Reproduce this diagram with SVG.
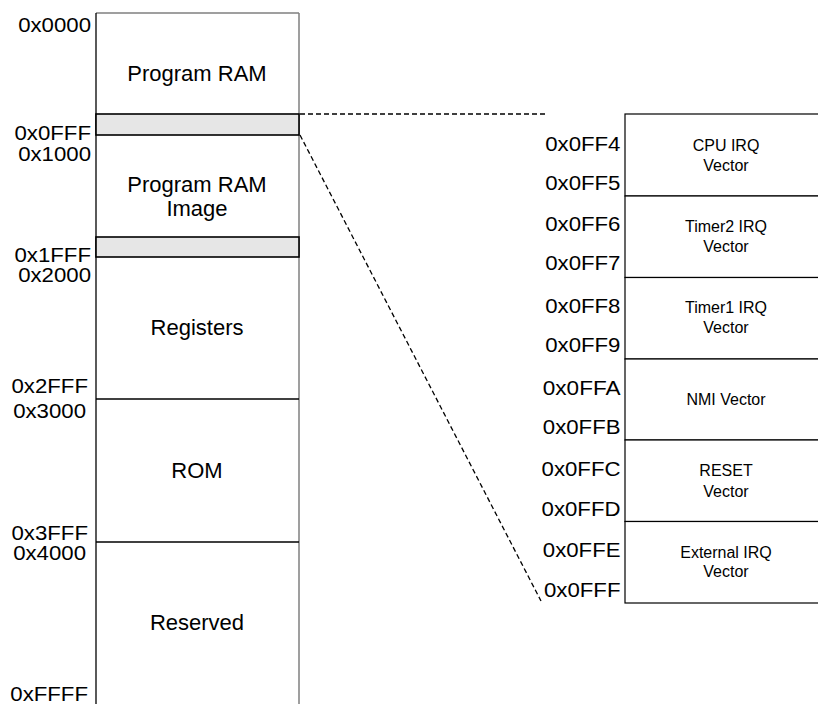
<svg xmlns="http://www.w3.org/2000/svg" width="818" height="704" viewBox="0 0 818 704">
<style>
.addr{font-family:"Liberation Sans",Arial,sans-serif;font-size:20px;fill:#000;text-anchor:end}
.big{font-family:"Liberation Sans",Arial,sans-serif;font-size:22px;fill:#000;text-anchor:middle}
.small{font-family:"Liberation Sans",Arial,sans-serif;font-size:16px;fill:#000;text-anchor:middle}
.edge{stroke:#000;stroke-width:1.3;fill:none}
.gedge{stroke:#7f7f7f;stroke-width:1.5;fill:none}
.hl{fill:#e6e6e6;stroke:#000;stroke-width:1.6}
.box{fill:#fff;stroke:#000;stroke-width:1.2}
.dash{stroke:#000;stroke-width:1.3;stroke-dasharray:5 3;fill:none}
</style>
<rect width="818" height="704" fill="#fff"/>

<g id="memory-map">
  <rect x="96" y="13" width="203" height="700" fill="#fff"/>
  <line class="gedge" x1="96" y1="13" x2="299" y2="13"/>
  <line class="edge" x1="96" y1="13" x2="96" y2="704"/>
  <line class="gedge" x1="299" y1="13" x2="299" y2="704"/>
</g>

<g id="program-ram">
  <text class="addr" x="91" y="32" textLength="72.8" lengthAdjust="spacingAndGlyphs">0x0000</text>
  <text class="big" x="197" y="81">Program RAM</text>
  <text class="addr" x="91" y="140" textLength="76.5" lengthAdjust="spacingAndGlyphs">0x0FFF</text>
</g>
<g id="vector-area-1">
  <rect class="hl" x="96" y="114" width="203" height="21"/>
</g>

<g id="program-ram-image">
  <text class="addr" x="91" y="161" textLength="72.8" lengthAdjust="spacingAndGlyphs">0x1000</text>
  <text class="big" x="197" y="192">Program RAM</text>
  <text class="big" x="197" y="216">Image</text>
  <text class="addr" x="91" y="262" textLength="76.5" lengthAdjust="spacingAndGlyphs">0x1FFF</text>
</g>
<g id="vector-area-2">
  <rect class="hl" x="96" y="237" width="203" height="20"/>
</g>

<g id="registers">
  <text class="addr" x="91" y="282" textLength="72.8" lengthAdjust="spacingAndGlyphs">0x2000</text>
  <text class="big" x="197" y="335">Registers</text>
  <text class="addr" x="88" y="393" textLength="76.5" lengthAdjust="spacingAndGlyphs">0x2FFF</text>
  <line class="edge" x1="96" y1="399" x2="299" y2="399"/>
</g>

<g id="rom">
  <text class="addr" x="86" y="418" textLength="72.8" lengthAdjust="spacingAndGlyphs">0x3000</text>
  <text class="big" x="197" y="478">ROM</text>
  <text class="addr" x="88" y="540" textLength="76.5" lengthAdjust="spacingAndGlyphs">0x3FFF</text>
  <line class="edge" x1="96" y1="542" x2="299" y2="542"/>
</g>

<g id="reserved">
  <text class="addr" x="86" y="560" textLength="72.8" lengthAdjust="spacingAndGlyphs">0x4000</text>
  <text class="big" x="197" y="630">Reserved</text>
  <text class="addr" x="88" y="701" textLength="77.7" lengthAdjust="spacingAndGlyphs">0xFFFF</text>
</g>

<g id="connectors">
  <line class="dash" x1="300" y1="114" x2="545" y2="114"/>
  <line class="dash" x1="300" y1="135" x2="541" y2="601"/>
</g>

<g id="cpu-irq-vector">
  <rect class="box" x="625" y="114" width="210" height="82"/>
  <text class="addr" x="620.5" y="151" textLength="75.3" lengthAdjust="spacingAndGlyphs">0x0FF4</text>
  <text class="addr" x="620.5" y="190" textLength="75.3" lengthAdjust="spacingAndGlyphs">0x0FF5</text>
  <text class="small" x="726" y="151">CPU IRQ</text>
  <text class="small" x="726" y="171">Vector</text>
</g>
<g id="timer2-irq-vector">
  <rect class="box" x="625" y="196" width="210" height="81.5"/>
  <text class="addr" x="620.5" y="231" textLength="75.3" lengthAdjust="spacingAndGlyphs">0x0FF6</text>
  <text class="addr" x="620.5" y="270" textLength="75.3" lengthAdjust="spacingAndGlyphs">0x0FF7</text>
  <text class="small" x="726" y="232">Timer2 IRQ</text>
  <text class="small" x="726" y="252">Vector</text>
</g>
<g id="timer1-irq-vector">
  <rect class="box" x="625" y="277.5" width="210" height="81.5"/>
  <text class="addr" x="620.5" y="313" textLength="75.3" lengthAdjust="spacingAndGlyphs">0x0FF8</text>
  <text class="addr" x="620.5" y="352" textLength="75.3" lengthAdjust="spacingAndGlyphs">0x0FF9</text>
  <text class="small" x="726" y="313">Timer1 IRQ</text>
  <text class="small" x="726" y="333">Vector</text>
</g>
<g id="nmi-vector">
  <rect class="box" x="625" y="359" width="210" height="81"/>
  <text class="addr" x="620.5" y="395" textLength="77.7" lengthAdjust="spacingAndGlyphs">0x0FFA</text>
  <text class="addr" x="620.5" y="434" textLength="77.7" lengthAdjust="spacingAndGlyphs">0x0FFB</text>
  <text class="small" x="726" y="405">NMI Vector</text>
</g>
<g id="reset-vector">
  <rect class="box" x="625" y="440" width="210" height="81.5"/>
  <text class="addr" x="620.5" y="476" textLength="78.9" lengthAdjust="spacingAndGlyphs">0x0FFC</text>
  <text class="addr" x="620.5" y="516" textLength="78.9" lengthAdjust="spacingAndGlyphs">0x0FFD</text>
  <text class="small" x="726" y="476">RESET</text>
  <text class="small" x="726" y="497">Vector</text>
</g>
<g id="external-irq-vector">
  <rect class="box" x="625" y="521.5" width="210" height="81.5"/>
  <text class="addr" x="620.5" y="557" textLength="77.7" lengthAdjust="spacingAndGlyphs">0x0FFE</text>
  <text class="addr" x="620.5" y="597" textLength="76.5" lengthAdjust="spacingAndGlyphs">0x0FFF</text>
  <text class="small" x="726" y="558">External IRQ</text>
  <text class="small" x="726" y="577">Vector</text>
</g>
</svg>
